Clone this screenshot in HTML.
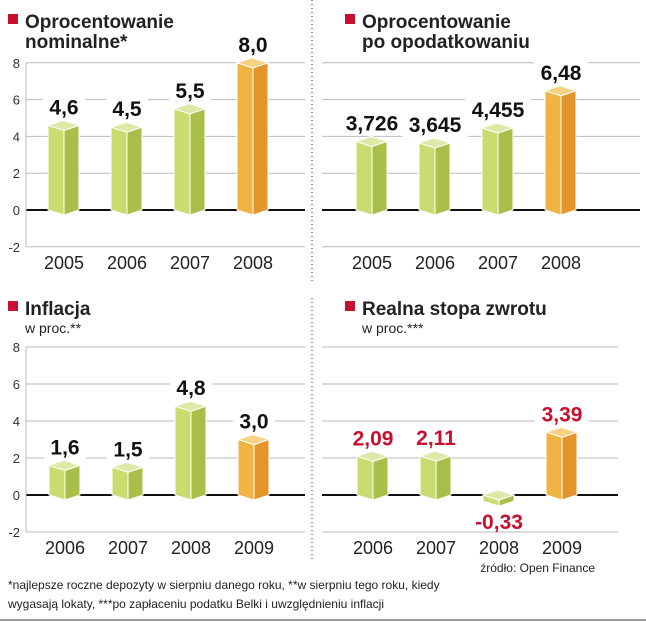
<!DOCTYPE html>
<html><head><meta charset="utf-8"><style>
body{margin:0;background:#fff;width:646px;height:622px;overflow:hidden;font-family:"Liberation Sans",sans-serif}
svg{display:block}
</style></head><body>
<svg id="c" width="646" height="622" xmlns="http://www.w3.org/2000/svg">
<line x1="312" y1="0" x2="312" y2="282" stroke="#333" stroke-dasharray="1,3"/>
<line x1="312" y1="298" x2="312" y2="562" stroke="#333" stroke-dasharray="1,3"/>
<line x1="0" y1="620" x2="646" y2="620" stroke="#333"/>
<text x="8" y="589" font-size="12" fill="#222">*najlepsze roczne depozyty w sierpniu danego roku, **w sierpniu tego roku, kiedy</text>
<text x="8" y="608" font-size="12" fill="#222">wygasają lokaty, ***po zapłaceniu podatku Belki i uwzględnieniu inflacji</text>
<text x="595" y="572" font-size="12" fill="#222" text-anchor="end">źródło: Open Finance</text>
</svg>
<script>
const p1Years=["2005","2006","2007","2008"];
const p1Values=[4.6,4.5,5.5,8.0];
const p1Labels=["4,6","4,5","5,5","8,0"];
const p2Years=["2005","2006","2007","2008"];
const p2Values=[3.726,3.645,4.455,6.48];
const p2Labels=["3,726","3,645","4,455","6,48"];
const p3Years=["2006","2007","2008","2009"];
const p3Values=[1.6,1.5,4.8,3.0];
const p3Labels=["1,6","1,5","4,8","3,0"];
const p4Years=["2006","2007","2008","2009"];
const p4Values=[2.09,2.11,-0.33,3.39];
const p4Labels=["2,09","2,11","-0,33","3,39"];
const yTicks=[8,6,4,2,0,-2];
const svg=document.getElementById('c');
const NS='http://www.w3.org/2000/svg';
function mk(tag,attrs,parent){const e=document.createElementNS(NS,tag);for(const k in attrs)e.setAttribute(k,attrs[k]);(parent||svg).appendChild(e);return e;}
function panel(o){
  const g=mk('g',{});
  
  
  const yS=v=>o.y0-v*o.scale;
  const xS=i=>o.c0+i*o.step;
  const sq=mk('rect',{x:o.tx,y:o.ty-14,width:10,height:10,fill:'#c8102e'},g);
  
  
  o.title.forEach((t,i)=>{const e=mk('text',{x:o.tx+17,y:o.ty+i*20,'font-size':19,'font-weight':'bold',fill:'#222'},g);e.textContent=t;
    
    });
  if(o.sub){const e=mk('text',{x:o.tx+17,y:o.ty+18,'font-size':14,fill:'#222'},g);e.textContent=o.sub;
    
    }
  yTicks.forEach(t=>{
    const l=mk('line',{x1:o.gx0,x2:o.gx1,y1:yS(t),y2:yS(t),stroke:t===0?'#111':'#bbb','stroke-width':t===0?2:1},g);
    
    
    if(o.axisLabels){const e=mk('text',{x:o.gx0-6,y:yS(t)+5,'font-size':13,fill:'#333','text-anchor':'end'},g);e.textContent=t;
      
      }
  });
  if(o.axisLabels){const a=mk('line',{x1:o.gx0,x2:o.gx0,y1:yS(8),y2:yS(-2),stroke:'#bbb'},g);
    
    }
  o.values.forEach((v,i)=>{
    const c=xS(i),x0=c-16,xm=c,x1=c+15;
    const orange=i===3;
    const front=orange?'#f0b444':'#c8dc70',side=orange?'#e3952c':'#a8c04a',cap=orange?'#f7d283':'#dde9a6';
    let top=yS(Math.max(v,0)),bot=yS(Math.min(v,0));
    if(bot-top<5)bot=top+5;
    const ly=v<0?bot+28:top-11;
    const w=o.labels[i].length*12+6;
    if(v>=0){const bk=mk('rect',{x:c-w/2,y:ly-19,width:w,height:24,fill:'#fff'},g);
      
      }
    const bg=mk('g',{},g);
    
    
    mk('polygon',{points:`${x0},${top} ${xm},${top+5} ${xm},${bot+5} ${x0},${bot}`,fill:front,stroke:'#fff','stroke-width':1},bg);
    mk('polygon',{points:`${xm},${top+5} ${x1},${top} ${x1},${bot} ${xm},${bot+5}`,fill:side,stroke:'#fff','stroke-width':1},bg);
    mk('polygon',{points:`${x0},${top} ${c-1},${top-5} ${x1},${top} ${xm},${top+5}`,fill:cap,stroke:'#fff','stroke-width':1},bg);
    const lab=mk('text',{x:c,y:ly,'font-size':21,'font-weight':'bold',fill:o.red?'#c8102e':'#111','text-anchor':'middle'},g);
    lab.textContent=o.labels[i];
    
    
    const yl=mk('text',{x:c,y:o.y0+59,'font-size':18,fill:'#222','text-anchor':'middle'},g);
    yl.textContent=o.years[i];
    
    
  });
}
panel({name:'nominal-rate-chart',years:p1Years,values:p1Values,labels:p1Labels,y0:210,scale:18.4,c0:64,step:63,gx0:26,gx1:305,axisLabels:true,tx:8,ty:28,title:['Oprocentowanie','nominalne*']});
panel({name:'after-tax-rate-chart',years:p2Years,values:p2Values,labels:p2Labels,y0:210,scale:18.4,c0:372,step:63,gx0:322,gx1:640,axisLabels:false,tx:345,ty:28,title:['Oprocentowanie','po opodatkowaniu']});
panel({name:'inflation-chart',years:p3Years,values:p3Values,labels:p3Labels,y0:495,scale:18.5,c0:65,step:63,gx0:26,gx1:305,axisLabels:true,tx:8,ty:315,title:['Inflacja'],sub:'w proc.**'});
panel({name:'real-return-chart',years:p4Years,values:p4Values,labels:p4Labels,y0:495,scale:18.5,c0:373,step:63,gx0:322,gx1:618,axisLabels:false,tx:345,ty:315,title:['Realna stopa zwrotu'],sub:'w proc.***',red:true});
</script>
</body></html>
